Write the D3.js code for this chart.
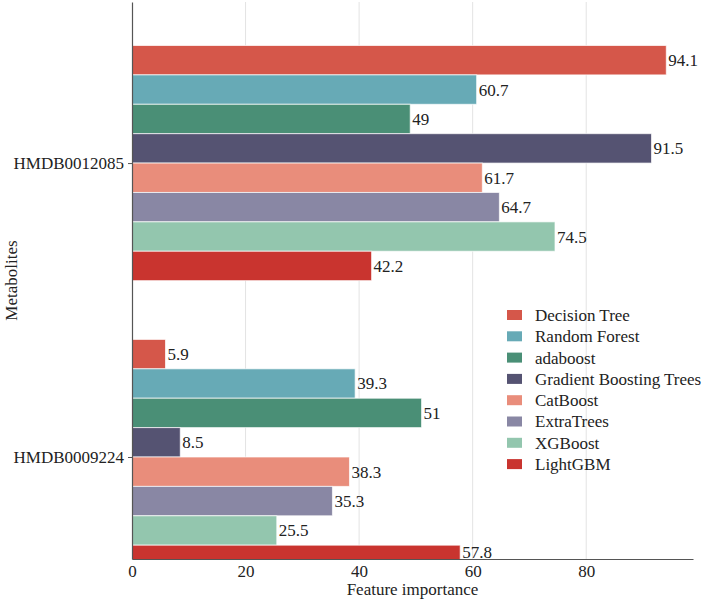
<!DOCTYPE html>
<html lang="en">
<head>
  <meta charset="UTF-8">
  <title>Feature importance by model</title>
  <style>
    body { margin: 0; background: #fff; }
    svg text { font-family: "Liberation Serif", Tinos, "Times New Roman", "DejaVu Serif", serif !important; }
  </style>
</head>
<body>
  <div id="chart"></div>
  <script src="https://d3js.org/d3.v7.min.js"></script>
  <script>
    // data
    const metabolites = ["HMDB0012085", "HMDB0009224"];
    const models = ["Decision Tree", "Random Forest", "adaboost", "Gradient Boosting Trees",
                    "CatBoost", "ExtraTrees", "XGBoost", "LightGBM"];
    const valuesHMDB0012085 = [94.1, 60.7, 49, 91.5, 61.7, 64.7, 74.5, 42.2];
    const valuesHMDB0009224 = [5.9, 39.3, 51, 8.5, 38.3, 35.3, 25.5, 57.8];
    const colors = ["#d5574a", "#67aab6", "#4a8f76", "#555372", "#e98d7b", "#8987a4", "#93c6ae", "#c9342f"];
    const xTicks = [0, 20, 40, 60, 80];

    const seriesValues = [valuesHMDB0012085, valuesHMDB0009224];

    const W = 709, H = 600;
    const margin = { top: 2, right: 16, bottom: 41, left: 132 };
    const width = W - margin.left - margin.right;
    const height = H - margin.top - margin.bottom;
    const fontSize = 17;
    const fontFam = "Liberation Serif, Tinos, Times New Roman, DejaVu Serif, serif";

    const svg = d3.select("#chart").append("svg")
      .attr("width", W)
      .attr("height", H);

    const g = svg.append("g")
      .attr("transform", `translate(${margin.left},${margin.top})`);

    // scales
    const x = d3.scaleLinear()
      .domain([0, 94.1 * 1.05])
      .range([0, width]);

    // categories sit at 0 and 1, the plot window is cut a bit unevenly like the original
    const y = d3.scaleLinear()
      .domain([-0.548, 1.347])
      .range([0, height]);

    const barW = 0.8 / models.length;

    g.append("clipPath").attr("id", "plot-clip")
      .append("rect")
        .attr("width", width)
        .attr("height", height);

    // grid lines
    g.append("g")
      .selectAll("line")
      .data(xTicks.slice(1))
      .enter()
      .append("line")
        .attr("x1", d => x(d))
        .attr("x2", d => x(d))
        .attr("y1", 0)
        .attr("y2", height)
        .attr("stroke", "#e3e3e3")
        .attr("stroke-width", 1);

    // flatten to bar records
    const bars = [];
    metabolites.forEach((m, mi) => {
      models.forEach((mod, i) => {
        bars.push({ m: mi, i: i, model: mod, value: seriesValues[mi][i] });
      });
    });

    const barTop = d => y(d.m - 0.4 + d.i * barW);
    const barBottom = d => y(d.m - 0.4 + (d.i + 1) * barW);

    g.append("g")
      .attr("clip-path", "url(#plot-clip)")
      .selectAll("rect")
      .data(bars)
      .enter()
      .append("rect")
        .attr("x", x(0))
        .attr("y", d => barTop(d))
        .attr("width", d => x(d.value) - x(0))
        .attr("height", d => barBottom(d) - barTop(d))
        .attr("fill", d => colors[d.i])
        .attr("stroke", "#ffffff")
        .attr("stroke-opacity", 0.7)
        .attr("stroke-width", 1);

    // value labels, centred on the visible part of the bar
    g.append("g")
      .selectAll("text")
      .data(bars)
      .enter()
      .append("text")
        .attr("x", d => x(d.value) + 2)
        .attr("y", d => (Math.max(0, barTop(d)) + Math.min(height, barBottom(d))) / 2)
        .attr("dy", "0.35em")
        .attr("font-size", fontSize)
        .attr("font-family", fontFam)
        .attr("fill", "#222")
        .text(d => d.value);

    // x axis
    const xAxis = g.append("g")
      .attr("transform", `translate(0,${height})`)
      .call(d3.axisBottom(x).tickValues(xTicks).tickSize(0).tickPadding(6));
    xAxis.select(".domain").attr("stroke", "#555").attr("stroke-width", 1.2);
    xAxis.selectAll("text")
      .attr("font-size", fontSize)
      .attr("font-family", fontFam)
      .attr("fill", "#222");

    // y axis
    const yAxis = g.append("g")
      .call(d3.axisLeft(y).tickValues([0, 1]).tickFormat(d => metabolites[d])
        .tickSize(4).tickPadding(4).tickSizeOuter(0));
    yAxis.select(".domain").attr("stroke", "#555").attr("stroke-width", 1.2);
    yAxis.selectAll(".tick line").attr("stroke", "#555");
    yAxis.selectAll("text")
      .attr("font-size", fontSize)
      .attr("font-family", fontFam)
      .attr("fill", "#222");

    // axis titles
    svg.append("text")
      .attr("x", margin.left + width / 2)
      .attr("y", 595)
      .attr("text-anchor", "middle")
      .attr("font-size", fontSize)
      .attr("font-family", fontFam)
      .attr("fill", "#222")
      .text("Feature importance");

    svg.append("text")
      .attr("transform", `translate(17,${margin.top + height / 2}) rotate(-90)`)
      .attr("text-anchor", "middle")
      .attr("font-size", fontSize)
      .attr("font-family", fontFam)
      .attr("fill", "#222")
      .text("Metabolites");

    // legend
    const legend = svg.append("g")
      .attr("transform", "translate(507,315)");

    const item = legend.selectAll("g")
      .data(models)
      .enter()
      .append("g")
        .attr("transform", (d, i) => `translate(0,${i * 21.3})`);

    item.append("rect")
      .attr("x", 0)
      .attr("y", -5)
      .attr("width", 15)
      .attr("height", 10)
      .attr("fill", (d, i) => colors[i]);

    item.append("text")
      .attr("x", 28)
      .attr("dy", "0.35em")
      .attr("font-size", fontSize)
      .attr("font-family", fontFam)
      .attr("fill", "#222")
      .text(d => d);
  </script>
</body>
</html>
